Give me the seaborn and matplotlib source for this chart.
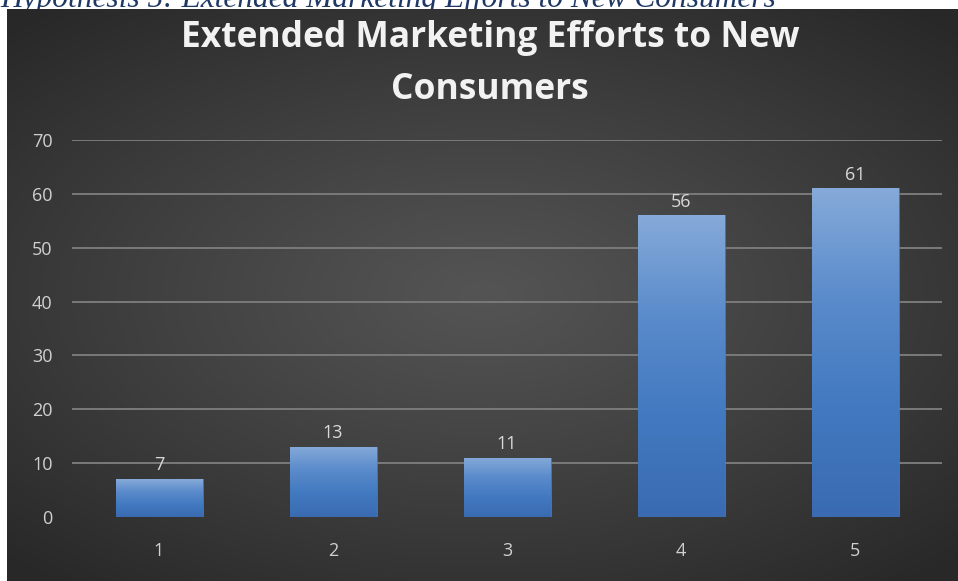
import numpy as np
import pandas as pd
import matplotlib
matplotlib.use("Agg")
import matplotlib.pyplot as plt
from matplotlib.colors import LinearSegmentedColormap
import seaborn as sns

# Survey responses on a 1-5 scale
categories = ["1", "2", "3", "4", "5"]
counts = [7, 13, 11, 56, 61]
y_ticks = [0, 10, 20, 30, 40, 50, 60, 70]

title_lines = ["Extended Marketing Efforts to New", "Consumers"]
caption = "Hypothesis 5: Extended Marketing Efforts to New Consumers"

sns.set_theme(style="dark")
plt.rcParams["font.family"] = ["Open Sans", "DejaVu Sans"]

W, H = 958, 581
fig = plt.figure(figsize=(W / 100, H / 100), dpi=100)
fig.patch.set_facecolor("white")

# Caption above the panel; the panel overlaps its lower part
fig.text(0.0, 1 - 7 / H, caption, ha="left", va="baseline",
         fontsize=22.6, style="italic", family=["Liberation Serif"],
         color="#1f3864", zorder=-1)

# Dark panel with a radial glow
x0, y0 = 7 / W, 0.0
bg = fig.add_axes([x0, y0, 1 - x0, (H - 9) / H], zorder=0)
gx, gy = np.meshgrid(np.linspace(-1, 1, 400), np.linspace(-1, 1, 300))
r = np.sqrt((gx * 0.95) ** 2 + (gy * 1.05) ** 2)
light = 0.33 - 0.17 * np.clip(r / 1.35, 0, 1) ** 1.1
bg.imshow(np.dstack([light] * 3), aspect="auto", extent=[0, 1, 0, 1],
          interpolation="bilinear")
bg.set_axis_off()

# Chart title, two centred lines
for line, yc in zip(title_lines, [38, 90]):
    fig.text(490 / W, 1 - yc / H, line, ha="center", va="center",
             fontsize=25.5, fontweight="bold", color="#f2f2f2", zorder=5)

ax = fig.add_axes([72 / W, (H - 517) / H, 870 / W, 377 / H], zorder=1)
ax.patch.set_alpha(0)
df = pd.DataFrame({"rating": categories, "count": counts})
sns.barplot(data=df, x="rating", y="count", width=0.5, color="#4a7ec4",
            saturation=1, ax=ax, zorder=2)

ax.set_ylim(0, 70)
ax.set_xlim(-0.5, len(categories) - 0.5)
ax.set_yticks(y_ticks)
ax.set_xlabel("")
ax.set_ylabel("")
for s in ax.spines.values():
    s.set_visible(False)
ax.grid(False)
for t in y_ticks[1:]:
    ax.axhline(t, color="#7a7a7a", lw=1.4, zorder=1)
ax.tick_params(axis="both", length=0, colors="#d0d0d0", labelsize=13)
ax.tick_params(axis="y", pad=14)
ax.tick_params(axis="x", pad=18)

# Gradient fill inside each bar
cmap = LinearSegmentedColormap.from_list(
    "barfill", ["#3a6bb1", "#4279c0", "#5a8bcb", "#86aad9"])
grad = np.linspace(0, 1, 256).reshape(-1, 1)
for patch, val in zip(ax.patches, counts):
    bx, by = patch.get_x(), patch.get_y()
    bw, bh = patch.get_width(), patch.get_height()
    patch.set_facecolor("none")
    patch.set_edgecolor("#4d7dbd")
    patch.set_linewidth(0.6)
    im = ax.imshow(grad, cmap=cmap, aspect="auto", origin="lower",
                   extent=[bx, bx + bw, by, by + bh], zorder=2)
    im.set_clip_path(patch)
    ax.text(bx + bw / 2, val + 0.9, str(val), ha="center", va="bottom",
            fontsize=13, color="#d9d9d9", zorder=3)

ax.set_xlim(-0.5, len(categories) - 0.5)
ax.set_ylim(0, 70)

fig.savefig("out.png", dpi=100)
